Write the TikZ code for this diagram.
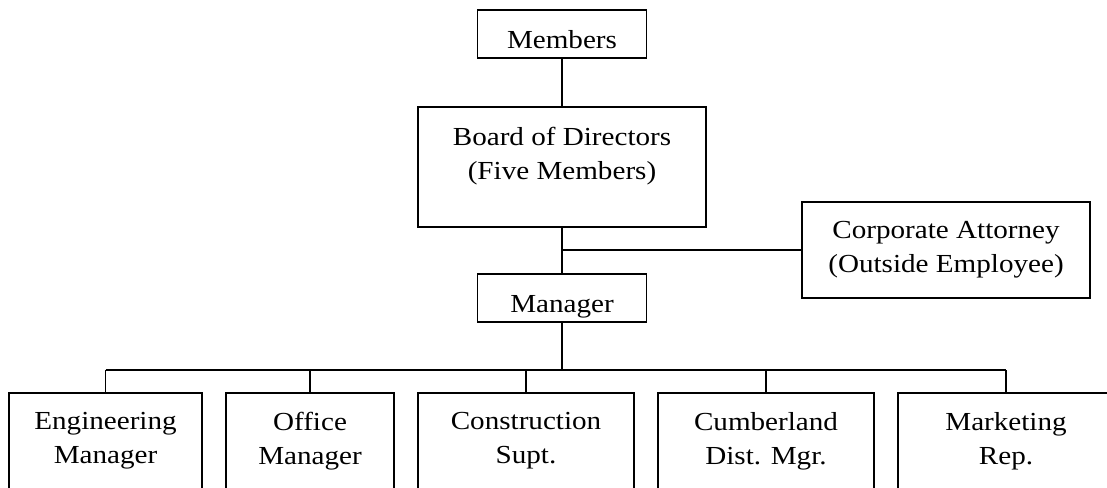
\documentclass[tikz,border=0pt]{standalone}
\usepackage{fontspec}
\setmainfont{Liberation Serif}[FakeStretch=1.12]

\begin{document}
\begin{tikzpicture}[
    x=0.5pt, y=-0.5pt,
    line width=0.8pt,
    box/.style = {
      draw, align=center, inner sep=0pt,
      font=\fontsize{13pt}{17pt}\selectfont
    },
    small/.style = {box, minimum width=84.5pt, minimum height=24pt,
      text height=14pt, text depth=0pt},
    big/.style = {box, minimum width=144pt, minimum height=60pt},
    dept/.style = {box, minimum height=48pt}
  ]
  \useasboundingbox (0,0) rectangle (1107,487);
  \clip (0,0) rectangle (1107,487);

  \node (members) [small] at (562,34) {Members};
  \node (board) [big, text depth=14pt] at (562,167)
    {Board of Directors\\(Five Members)};
  \node (attorney) [dept, minimum width=144pt] at (946,250)
    {Corporate Attorney\\(Outside Employee)};
  \node (manager) [small] at (562,298) {Manager};

  % bottom row runs off the page
  \node (eng) [dept, minimum width=96.5pt] at (105.5,441) {Engineering\\Manager};
  \node (office) [dept, minimum width=84pt] at (310,441) {Office\\Manager};
  \node (constr) [dept, minimum width=108pt] at (526,441) {Construction\\Supt.};
  \node (cumb) [dept, minimum width=108pt] at (766,441) {Cumberland\\Dist. Mgr.};
  \node (market) [dept, minimum width=108pt] at (1006,441) {Marketing\\Rep.};

  \coordinate (bus) at (0,370);

  \draw (members) -- (board);
  \draw (board) -- (manager);
  \draw (attorney.west) -- (board.south |- attorney.west);
  \draw (manager) -- (manager |- bus);

  \draw (eng.north |- bus) -- (market.north |- bus);
  \draw (eng) -- (eng |- bus);
  \draw (office) -- (office |- bus);
  \draw (constr) -- (constr |- bus);
  \draw (cumb) -- (cumb |- bus);
  \draw (market) -- (market |- bus);
\end{tikzpicture}
\end{document}
